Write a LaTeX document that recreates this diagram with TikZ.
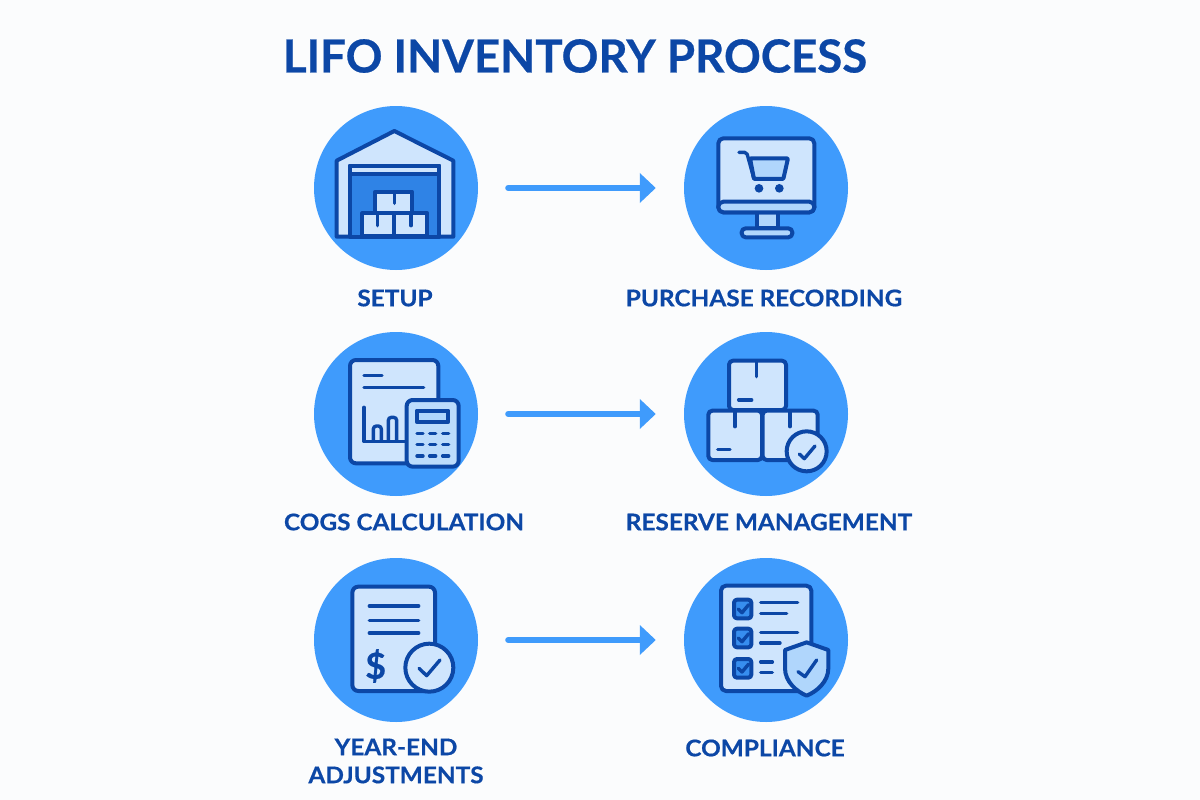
\documentclass[tikz,border=0pt]{standalone}
\usepackage{fontspec}
\setmainfont{Lato}[BoldFeatures={FakeBold=0.5}]
\usetikzlibrary{arrows.meta}
\definecolor{paper}{HTML}{FBFCFD}
\definecolor{disc}{HTML}{3F9BFC}
\definecolor{navy}{HTML}{0C47A6}
\definecolor{pale}{HTML}{CFE5FD}
\definecolor{soft}{HTML}{B0D6FC}
\definecolor{door}{HTML}{2F83E6}
\tikzset{
  >={Triangle[length=16pt,width=29pt]},
  stepdisc/.style={circle,fill=disc,minimum size=164pt,inner sep=0pt},
  steplabel/.style={text=navy,font=\fontsize{23}{28}\selectfont\bfseries\addfontfeature{FakeStretch=1.06},align=center},
  flow/.style={->,draw=disc,line width=6pt,line cap=round,shorten <=30pt,shorten >=28pt},
  ink/.style={draw=navy,line width=4pt,line join=round,line cap=round},
  part/.style={ink,fill=pale},
  softpart/.style={ink,fill=soft},
  stroke/.style={ink,line width=3.4pt}
}
\begin{document}
\begin{tikzpicture}[x=1pt,y=-1pt]
\useasboundingbox (0,0) rectangle (1200,800);
\fill[paper] (0,0) rectangle (1200,800);
\node[text=navy,font=\fontsize{45.6}{50}\selectfont\bfseries] (title) at (575,56) {LIFO INVENTORY PROCESS};

% discs
\node[stepdisc] (setup) at (396,188) {};
\node[stepdisc] (purchase) at (766,188) {};
\node[stepdisc] (cogs) at (396,414) {};
\node[stepdisc] (reserve) at (766,414) {};
\node[stepdisc] (yearend) at (396,640) {};
\node[stepdisc] (comply) at (766,640) {};

\foreach \from/\to in {setup/purchase,cogs/reserve,yearend/comply}
  \draw[flow] (\from) -- (\to);

% labels
\node[steplabel] (setuplabel) at (395,298) {SETUP};
\node[steplabel] (purchaselabel) at (764,298) {PURCHASE RECORDING};
\node[steplabel] (cogslabel) at (404,522) {COGS CALCULATION};
\node[steplabel] (reservelabel) at (769,522) {RESERVE MANAGEMENT};
\node[steplabel] (yearendlabel) at (396,761) {YEAR-END\\ADJUSTMENTS};
\node[steplabel] (complylabel) at (765,748) {COMPLIANCE};

% warehouse
\begin{scope}[shift={(300,95)},scale=1/3]
\draw[part] (110,425) -- (110,197) -- (283,108) -- (460,197) -- (460,425) -- cycle;
\draw[ink,fill=door] (150,212) rectangle (418,425);
\draw[part] (150,212) rectangle (418,238);
\draw[part] (226,290) rectangle (336,355);
\draw[part] (187,355) rectangle (283,422);
\draw[part] (283,355) rectangle (382,422);
\draw[stroke] (283,297) -- (283,325);
\draw[stroke] (232,360) -- (232,392);
\draw[stroke] (333,360) -- (333,392);
\end{scope}

% monitor with cart
\begin{scope}[shift={(670,95)},scale=1/3]
\draw[softpart] (260,352) rectangle (323,400);
\draw[softpart,rounded corners=4pt] (215,400) rectangle (367,427);
\draw[part,rounded corners=5pt] (145,130) rectangle (433,352);
\draw[ink,fill=soft,rounded corners=5pt] (145,320) -- (433,320) -- (433,352) -- (145,352) -- cycle;
\draw[softpart,rounded corners=1pt] (240,190) -- (354,190) -- (340,252) -- (252,252) -- cycle;
\draw[stroke,rounded corners=2pt] (207,172) -- (230,172) -- (252,252);
\fill[navy] (267,280) circle[radius=13];
\fill[navy] (328,280) circle[radius=13];
\end{scope}

% report and calculator
\begin{scope}[shift={(300,320)},scale=1/3]
\draw[part,rounded corners=6pt] (150,120) rectangle (415,430);
\draw[stroke] (192,166) -- (246,166);
\draw[stroke] (192,203) -- (371,203);
\draw[stroke] (192,262) -- (192,365) -- (320,365);
\draw[stroke,rounded corners=3pt] (220,362) -- (220,318) -- (244,318) -- (244,362);
\draw[stroke,rounded corners=3pt] (265,362) -- (265,292) -- (290,292) -- (290,362);
\draw[ink,fill=soft!60!pale,rounded corners=6pt] (320,240) rectangle (476,440);
\draw[softpart] (350,272) rectangle (445,305);
\foreach \keyx in {360,398,437}
  \foreach \keyy in {340,374,408}
    \draw[stroke] (\keyx-9,\keyy) -- (\keyx+9,\keyy);
\end{scope}

% stacked boxes
\begin{scope}[shift={(670,320)},scale=1/3]
\draw[part,rounded corners=4pt] (177,122) rectangle (348,270);
\draw[part,rounded corners=4pt] (115,272) rectangle (276,420);
\draw[part,rounded corners=4pt] (278,272) rectangle (443,420);
\draw[stroke] (260,125) -- (260,170);
\draw[stroke] (195,275) -- (195,320);
\draw[stroke] (360,275) -- (360,320);
\draw[stroke] (206,240) -- (245,240);
\draw[stroke] (143,388) -- (180,388);
\draw[part] (410,394) circle[radius=60];
\draw[stroke] (388,402) -- (403,416) -- (435,378);
\end{scope}

% statement with dollar sign
\begin{scope}[shift={(300,545)},scale=1/3]
\draw[part,rounded corners=6pt] (157,125) rectangle (405,438);
\draw[stroke] (208,183) -- (356,183);
\draw[stroke] (208,227) -- (356,227);
\draw[stroke] (208,264) -- (356,264);
\node[text=navy,font=\fontsize{36}{36}\selectfont\bfseries] (dollar) at (227,363) {\$};
\draw[part] (388,368) circle[radius=72];
\draw[stroke] (357,370) -- (380,392) -- (420,345);
\end{scope}

% checklist with shield
\begin{scope}[shift={(670,545)},scale=1/3]
\draw[part,rounded corners=5pt] (153,122) rectangle (424,438);
\foreach \rowy in {192,279,370} {
  \draw[ink,fill=disc!85!navy,rounded corners=3pt] (192,\rowy-28) rectangle (244,\rowy+28);
  \draw[stroke] (205,\rowy) -- (216,\rowy+11) -- (236,\rowy-13);
}
\draw[stroke] (272,173) -- (383,173);
\draw[stroke] (272,205) -- (350,205);
\draw[stroke] (272,263) -- (383,263);
\draw[stroke] (272,294) -- (330,294);
\draw[stroke] (272,351) -- (307,351);
\draw[stroke] (272,382) -- (307,382);
\draw[softpart] (410,292) -- (475,315) -- (475,370) .. controls (475,410) and (440,440) .. (410,452) .. controls (380,440) and (345,410) .. (345,370) -- (345,315) -- cycle;
\draw[stroke] (384,380) -- (405,395) -- (440,345);
\end{scope}
\end{tikzpicture}
\end{document}
